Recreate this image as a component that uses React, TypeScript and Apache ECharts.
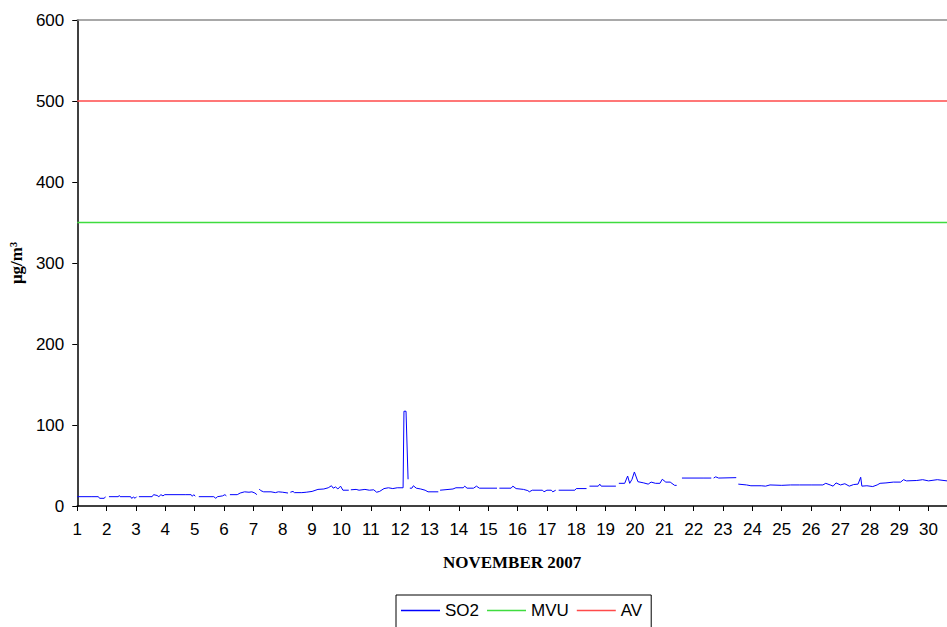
import React, { useEffect, useRef } from "react";
import * as echarts from "echarts";

// Day of November 2007 (fractional) and SO2 concentration (µg/m³); null = gap in record
const SO2_DAYS = [
  1.0, 1.5, 1.72, 1.76, 1.92, 1.96, 2.05, 2.08, 2.4, 2.43, 2.46, 2.82, 2.85, 2.92, 2.97, 3.02, 3.07,
  3.1, 3.55, 3.6, 3.72, 3.78, 3.85, 3.92, 3.98, 4.7, 4.88, 4.92, 4.97, 5.02, 5.1,
  5.14, 5.65, 5.72, 5.78, 5.95, 6.03, 6.08, 6.16, 6.2, 6.45, 6.55, 6.7, 6.85, 6.95, 7.05, 7.12, 7.17,
  7.2, 7.25, 7.35, 7.6, 7.75, 7.85, 8.0, 8.18, 8.23, 8.26, 8.35, 8.4, 8.65, 8.8, 9.0, 9.2, 9.4, 9.55,
  9.66, 9.72, 9.8, 9.88, 9.97, 10.05, 10.25, 10.28, 10.32, 10.5, 10.6, 10.8, 10.95, 11.1, 11.2, 11.3,
  11.45, 11.6, 11.75, 11.9, 12.1, 12.13, 12.2, 12.27, 12.3, 12.33, 12.4, 12.45, 12.55, 12.7, 12.85,
  12.95, 13.3, 13.33, 13.36, 13.8, 13.9, 14.15, 14.2, 14.28, 14.5, 14.6, 14.7, 15.3, 15.33, 15.38,
  15.78, 15.84, 15.95, 16.2, 16.35, 16.4, 16.5, 16.85, 16.9, 17.0, 17.15, 17.2, 17.3, 17.35, 17.4,
  17.95, 18.0, 18.35, 18.4, 18.45, 18.75, 18.8, 18.85, 19.35, 19.4, 19.45, 19.65, 19.75, 19.82, 19.9,
  19.98, 20.1, 20.3, 20.45, 20.55, 20.7, 20.85, 20.93, 21.05, 21.2, 21.35, 21.42, 21.5, 21.6, 22.35,
  22.6, 22.65, 22.68, 22.75, 22.85, 23.45, 23.49, 23.52, 23.8, 23.95, 24.3, 24.45, 24.6, 25.0, 25.3,
  25.6, 26.0, 26.4, 26.5, 26.65, 26.75, 26.85, 27.0, 27.15, 27.3, 27.45, 27.6, 27.69, 27.73, 27.9,
  28.1, 28.25, 28.35, 28.55, 28.8, 29.05, 29.15, 29.25, 29.6, 29.8, 30.0, 30.3, 30.63,
];
const SO2_VALUES = [
  11.5, 11.5, 11.5, 9.5, 9.5, 11.5, null, 11.5, 11.5, 13, 11.5, 11.5, 9.5, 11, 9.5, 11.5, null,
  11.5, 11.5, 14, 13, 11.5, 14, 12.5, 14, 14, 14, 12, 14, 12, null,
  11.5, 11.5, 9.5, 11.5, 12.5, 14, 12.5, null, 14, 14, 16, 17.5, 17, 17.5, 16, 14, null,
  21, 19, 17.5, 17.5, 16.5, 17.5, 17, 16, null, 17, 18, 16.5, 16.5, 17, 18, 20.5, 21, 22.5,
  25, 22, 23.5, 21, 24.5, 19.5, 19.5, null, 20, 20.5, 19.5, 20.5, 19.5, 20, 17, 18,
  21.5, 22.5, 21.5, 22.5, 22.5, 117, 117, 33, null, 22, 22, 25, 22, 21, 19.5,
  17.5, 17.5, null, 19.5, 21, 22.5, 22.5, 24.5, 22, 22, 24.5, 22, 22, null, 22,
  22, 24.5, 21.5, 20.5, 19, 17.5, 19.5, 19.5, 17.5, 19.5, 19.5, 17.5, 19.5, null, 19.5,
  19.5, 21.5, 21.5, null, 24.5, 24.5, 27, 24.5, 24.5, null, 28, 28, 37, 28, 33,
  42, 30, 28.5, 27, 29.5, 28, 28, 33, 29.5, 29.5, 25.5, 25.5, null, 34.5, 34.5,
  34.5, null, 34.5, 36, 34.5, 35, null, 27, 26, 25, 25, 24.5, 26, 25.5, 26,
  26, 26, 26, 28, 26, 24.5, 28.5, 26, 27.5, 24.5, 26.5, 27, 35.5, 24.5, 25,
  24, 26, 28, 28.5, 29.5, 29.5, 32.5, 31, 31.5, 32.5, 31, 32.5, 31,
];

const DAY_MIN = 1;
const DAY_MAX = 30.63;
const MVU_LIMIT = 350;
const AV_LIMIT = 500;
const Y_TICKS = [0, 100, 200, 300, 400, 500, 600];
const LEGEND_NAMES = ["SO2", "MVU", "AV"];

const SANS = "'Liberation Sans', Arial, sans-serif";
const SERIF = "'Liberation Serif', 'Times New Roman', serif";

export default function App() {
  const ref = useRef<HTMLDivElement>(null);

  useEffect(() => {
    if (!ref.current) return;
    const chart = echarts.init(ref.current, undefined, { renderer: "svg" });
    const so2Data = SO2_DAYS.map((d, i) => [d, SO2_VALUES[i] === null ? "-" : SO2_VALUES[i]]);
    const yMax = Y_TICKS[Y_TICKS.length - 1];
    const yInterval = Y_TICKS[1] - Y_TICKS[0];

    chart.setOption({
      animation: false,
      backgroundColor: "#ffffff",
      grid: { left: 76, right: 0, top: 20, bottom: 121, containLabel: false },
      xAxis: [
        {
          type: "value",
          min: DAY_MIN,
          max: DAY_MAX,
          interval: 1,
          name: "NOVEMBER 2007",
          nameLocation: "middle",
          nameGap: 48,
          nameTextStyle: { fontFamily: SERIF, fontWeight: "bold", fontSize: 17, color: "#000" },
          axisLine: { show: true, onZero: false, lineStyle: { color: "#000", width: 1.5 } },
          axisTick: { show: true, inside: false, length: 5, lineStyle: { color: "#000" } },
          axisLabel: {
            show: true,
            margin: 15,
            fontFamily: SANS,
            fontSize: 17,
            color: "#000",
            showMaxLabel: false,
            formatter: (v: number) => (Number.isInteger(v) ? String(v) : ""),
          },
          splitLine: { show: false },
        },
        {
          type: "value",
          position: "top",
          min: DAY_MIN,
          max: DAY_MAX,
          axisLine: { show: true, onZero: false, lineStyle: { color: "#8c8c8c", width: 1.5 } },
          axisTick: { show: false },
          axisLabel: { show: false },
          splitLine: { show: false },
        },
      ],
      yAxis: {
        type: "value",
        min: 0,
        max: yMax,
        interval: yInterval,
        name: "μg/m³",
        nameLocation: "middle",
        nameGap: 50,
        nameRotate: 90,
        nameTextStyle: { fontFamily: SERIF, fontWeight: "bold", fontSize: 17, color: "#000" },
        axisLine: { show: true, lineStyle: { color: "#000", width: 1.5 } },
        axisTick: { show: true, inside: false, length: 5, lineStyle: { color: "#000" } },
        axisLabel: { margin: 13, fontFamily: SANS, fontSize: 17, color: "#000" },
        splitLine: { show: false },
      },
      legend: {
        data: LEGEND_NAMES.map((n) => ({ name: n, icon: "rect" })),
        left: 396,
        top: 595,
        orient: "horizontal",
        itemWidth: 39,
        itemHeight: 1.5,
        itemGap: 8,
        padding: [7, 9, 12, 5],
        borderColor: "#000",
        borderWidth: 1,
        borderRadius: 0,
        textStyle: { fontFamily: SANS, fontSize: 17, color: "#000" },
      },
      series: [
        {
          name: "SO2",
          type: "line",
          data: so2Data,
          symbol: "none",
          connectNulls: false,
          lineStyle: { color: "#0000ff", width: 1 },
          itemStyle: { color: "#0000ff" },
        },
        {
          name: "MVU",
          type: "line",
          data: [
            [DAY_MIN, MVU_LIMIT],
            [DAY_MAX, MVU_LIMIT],
          ],
          symbol: "none",
          lineStyle: { color: "#3fdc3f", width: 1.5 },
          itemStyle: { color: "#3fdc3f" },
        },
        {
          name: "AV",
          type: "line",
          data: [
            [DAY_MIN, AV_LIMIT],
            [DAY_MAX, AV_LIMIT],
          ],
          symbol: "none",
          lineStyle: { color: "#ff4a4a", width: 1.5 },
          itemStyle: { color: "#ff4a4a" },
        },
      ],
    });

    return () => chart.dispose();
  }, []);

  return (
    <div
      ref={ref}
      style={{ position: "fixed", left: 0, top: 0, width: 947, height: 627, background: "#fff" }}
    />
  );
}
